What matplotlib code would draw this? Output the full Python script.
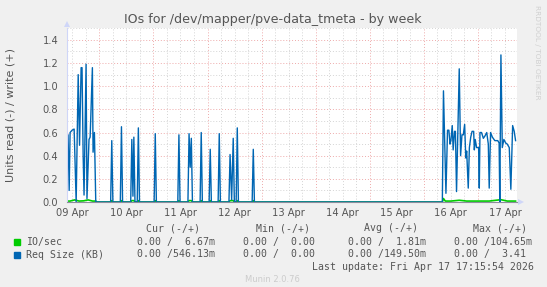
import numpy as np
from matplotlib import pyplot as plt

# hours since 09 Apr 00:00
req_hours = [9.6, 10.1, 10.6, 11.0, 11.9, 12.8, 13.7, 14.6, 15.2, 15.9, 16.3, 16.8, 17.2,
             18.1, 18.5, 19.4, 19.9, 20.9, 21.2, 21.8, 22.4,
             29.0, 29.5, 30.0, 33.3, 33.8, 34.3, 37.9, 38.4, 38.9, 39.3, 39.8,
             40.8, 41.3, 41.8, 48.3, 48.8, 49.3, 58.8, 59.3, 59.8,
             63.3, 63.8, 64.3, 64.8, 65.3, 68.7, 69.2, 69.7, 72.7, 73.2, 73.7,
             76.7, 77.2, 77.7, 81.5, 82.0, 82.7, 83.4, 83.9, 84.7, 85.2, 85.7,
             91.8, 92.3, 92.8,
             176.2, 176.7, 177.8, 178.5, 179.1, 179.6, 180.0, 180.6, 181.0, 181.6,
             182.0, 182.5, 183.7, 184.3, 184.9, 185.5, 186.1, 186.6, 187.0, 187.7,
             188.2, 188.8, 189.4, 190.1, 190.4, 190.8, 191.4, 192.3, 192.6, 192.9,
             193.6, 194.4, 195.1, 195.9, 196.6, 197.0, 197.6, 198.4, 199.5, 200.8,
             201.4, 201.7, 202.2, 202.8, 203.5, 204.3, 205.0, 205.9, 206.6, 207.4,
             208.1, 208.7]
req_size = [0.58, 0.58, 0.10, 0.60, 0.62, 0.63, 0.0, 1.10, 0.49, 1.16, 1.16, 0.40, 0.06,
            1.19, 0.03, 0.54, 0.56, 1.16, 0.43, 0.60, 0.0,
            0.0, 0.53, 0.0, 0.0, 0.65, 0.0, 0.0, 0.54, 0.05, 0.56, 0.0,
            0.0, 0.64, 0.0, 0.0, 0.59, 0.0, 0.0, 0.58, 0.0,
            0.0, 0.59, 0.30, 0.55, 0.0, 0.0, 0.60, 0.0, 0.0, 0.455, 0.0,
            0.0, 0.59, 0.0, 0.0, 0.41, 0.02, 0.55, 0.0, 0.0, 0.64, 0.0,
            0.0, 0.455, 0.0,
            0.0, 0.96, 0.075, 0.62, 0.62, 0.50, 0.53, 0.66, 0.45, 0.61,
            0.61, 0.09, 1.15, 0.40, 0.58, 0.58, 0.67, 0.38, 0.44, 0.12,
            0.47, 0.56, 0.61, 0.61, 0.45, 0.54, 0.47, 0.47, 0.12, 0.60,
            0.60, 0.55, 0.57, 0.60, 0.50, 0.12, 0.60, 0.56, 0.53, 0.53,
            0.51, 0.0, 1.27, 0.47, 0.54, 0.51, 0.50, 0.47, 0.11, 0.66,
            0.61, 0.53]

io_hours = [9.6, 11.0, 13.0, 15.0, 17.0, 19.0, 21.0, 22.4, 22.9,
            29.0, 29.5, 30.0, 33.3, 33.8, 34.3, 37.9, 38.4, 39.3, 39.8,
            40.8, 41.3, 41.8, 48.3, 48.8, 49.3, 58.8, 59.3, 59.8,
            63.3, 63.8, 64.8, 65.3, 68.7, 69.2, 69.7, 72.7, 73.2, 73.7,
            76.7, 77.2, 77.7, 81.5, 82.0, 83.4, 83.9, 84.7, 85.2, 85.7,
            91.8, 92.3, 92.8,
            176.2, 176.7, 177.5, 180.0, 183.7, 187.0, 192.0, 197.0, 202.2, 205.0, 208.7]
io_sec = [0.008, 0.008, 0.018, 0.008, 0.01, 0.018, 0.008, 0.008, 0.0,
          0.0, 0.012, 0.0, 0.0, 0.012, 0.0, 0.0, 0.012, 0.012, 0.0,
          0.0, 0.012, 0.0, 0.0, 0.012, 0.0, 0.0, 0.012, 0.0,
          0.0, 0.012, 0.012, 0.0, 0.0, 0.012, 0.0, 0.0, 0.012, 0.0,
          0.0, 0.012, 0.0, 0.0, 0.012, 0.012, 0.0, 0.0, 0.012, 0.0,
          0.0, 0.012, 0.0,
          0.0, 0.03, 0.008, 0.008, 0.015, 0.008, 0.008, 0.008, 0.02, 0.008, 0.008]

day_labels = ['09 Apr', '10 Apr', '11 Apr', '12 Apr', '13 Apr',
              '14 Apr', '15 Apr', '16 Apr', '17 Apr']

W, H = 547, 287
fig = plt.figure(figsize=(W / 100, H / 100), dpi=100, facecolor='#f0f0f0')
ax = fig.add_axes([66.7 / W, 1 - 202 / H, 450 / W, (202 - 28.3) / H])
ax.set_facecolor('white')

# grid like rrdtool
ax.set_xlim(9.5, 209.2)
ax.set_ylim(0, 1.5)
ax.set_xticks(np.arange(12, 205, 24))
ax.set_xticklabels(day_labels)
ax.set_yticks(np.arange(0, 1.41, 0.2))
ax.set_yticklabels(['%.1f' % v for v in np.arange(0, 1.41, 0.2)])
for h in np.arange(12, 209, 6):
    if h % 24 == 0:
        ax.axvline(h, color='#eeaaaa', lw=0.7, ls=(0, (1, 2)), zorder=1)
    else:
        ax.axvline(h, color='#d4d4d4', lw=0.7, ls=(0, (1, 2)), zorder=1)
for k in range(1, 16):
    y = k / 10
    c = '#eeaaaa' if k % 2 == 0 else '#d4d4d4'
    ax.axhline(y, color=c, lw=0.7, ls=(0, (1, 2)), zorder=1)

ax.plot(io_hours, io_sec, color='#00cc00', lw=1.2, zorder=2)
ax.plot(req_hours, req_size, color='#0066b3', lw=1.0, zorder=2.2)

for s in ['top', 'right']:
    ax.spines[s].set_visible(False)
ax.spines['left'].set_color('#cfd6f8')
ax.spines['bottom'].set_color('#8c8c9c')
ax.spines['bottom'].set_zorder(3)
ax.tick_params(length=0, labelsize=7.1, colors='#555555')
ax.tick_params(axis='x', pad=4)
ax.tick_params(axis='y', pad=6)

# axis arrows
ax.plot([0], [1 + 4.5 / 173.7], transform=ax.transAxes, marker='^', ms=5,
        color='#cfd6f8', clip_on=False, markeredgewidth=0)
ax.plot([1 + 4 / 450], [0], transform=ax.transAxes, marker='>', ms=5, color='#cfd6f8',
        clip_on=False, markeredgewidth=0)

fig.text(273 / W, 1 - 19.5 / H, 'IOs for /dev/mapper/pve-data_tmeta - by week',
         ha='center', va='center', fontsize=9.1, color='#555555')
fig.text(11 / W, 1 - 115 / H, 'Units read (-) / write (+)', rotation=90,
         ha='center', va='center', fontsize=8, color='#555555')
fig.text(537 / W, 1 - 52 / H, 'RRDTOOL / TOBI OETIKER', rotation=270,
         ha='center', va='center', fontsize=5.3, color='#d0d0d0')

mono = 'DejaVu Sans Mono'
fs = 7.1
def txt(x, y, s, **kw):
    fig.text(x / W, 1 - y / H, s, family=mono, fontsize=fs, color='#555555',
             va='center', ha='left', **kw)

headers = ['Cur (-/+)', 'Min (-/+)', 'Avg (-/+)', 'Max (-/+)']
header_x = [146.5, 255.8, 364, 472.8]
io_stats = ['0.00 /  6.67m', '0.00 /  0.00', '0.00 /  1.81m', '0.00 /104.65m']
req_stats = ['0.00 /546.13m', '0.00 /  0.00', '0.00 /149.50m', '0.00 /  3.41']
value_x = [137, 243, 348, 454]

for hx, h in zip(header_x, headers):
    txt(hx, 228.4, h)
txt(26.2, 241.6, 'IO/sec')
txt(26.2, 254.5, 'Req Size (KB)')
for vx, s in zip(value_x, io_stats):
    txt(vx, 241.6, s)
for vx, s in zip(value_x, req_stats):
    txt(vx, 254.5, s)
txt(311.6, 266.5, 'Last update: Fri Apr 17 17:15:54 2026')

fig.patches.append(plt.Rectangle((13.5 / W, 1 - 244.7 / H), 6 / W, 6 / H,
                                 transform=fig.transFigure, color='#00cc00'))
fig.patches.append(plt.Rectangle((13.5 / W, 1 - 257.6 / H), 6 / W, 6 / H,
                                 transform=fig.transFigure, color='#0066b3'))

fig.text(272 / W, 1 - 280 / H, 'Munin 2.0.76', ha='center', va='center',
         fontsize=6, color='#cccccc')

fig.savefig('out.png', dpi=100, facecolor=fig.get_facecolor())
